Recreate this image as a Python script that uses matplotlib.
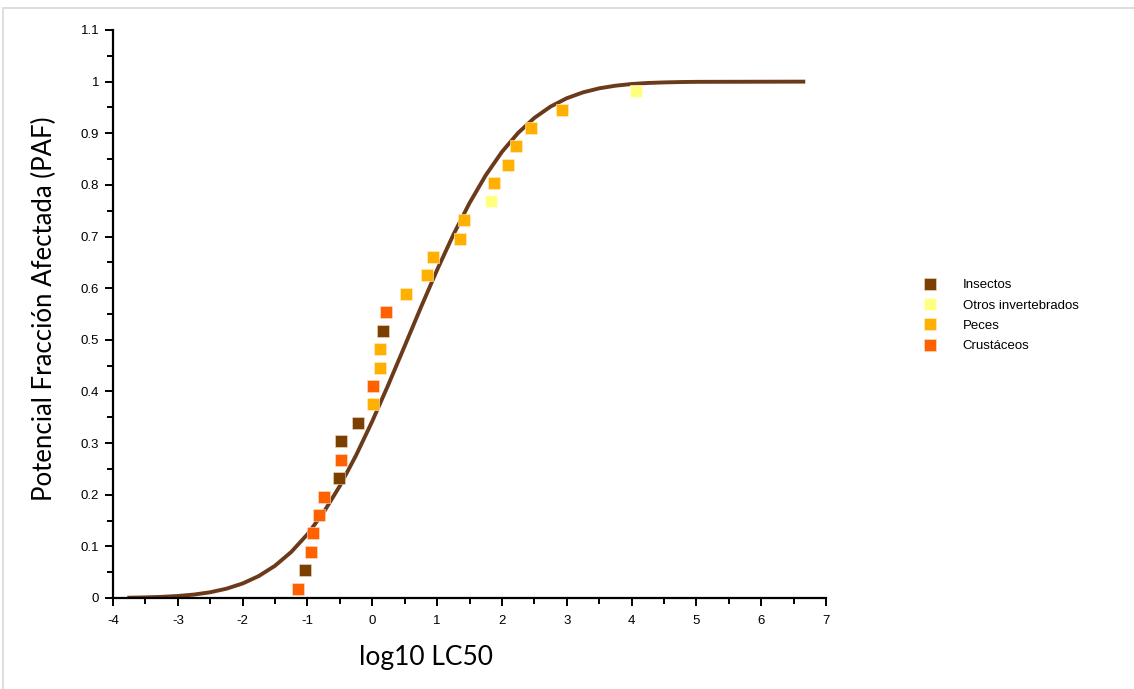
import matplotlib
matplotlib.use("Agg")
import matplotlib.pyplot as plt
from matplotlib.ticker import MultipleLocator, FormatStrFormatter
from matplotlib.patches import Rectangle

plt.rcParams['axes.unicode_minus'] = False

# species points (log10 LC50, PAF rank)
insectos_x = [-1.04, -0.52, -0.48, -0.22, 0.165]
insectos_y = [0.054, 0.232, 0.304, 0.339, 0.518]

otros_x = [1.83, 4.07]
otros_y = [0.768, 0.982]

peces_x = [0.006, 0.12, 0.12, 0.52, 0.85, 0.94, 1.36, 1.41, 1.88, 2.10, 2.21, 2.45, 2.92]
peces_y = [0.375, 0.446, 0.482, 0.589, 0.625, 0.661, 0.696, 0.732, 0.804, 0.839, 0.875, 0.911, 0.946]

crust_x = [-1.15, -0.95, -0.91, -0.82, -0.75, -0.48, 0.006, 0.21]
crust_y = [0.018, 0.089, 0.125, 0.161, 0.196, 0.268, 0.411, 0.554]

# fitted SSD curve, read at 0.25 steps
curve_x = [-3.75, -3.5, -3.25, -3.0, -2.75, -2.5, -2.25, -2.0, -1.75, -1.5,
           -1.25, -1.0, -0.75, -0.5, -0.25, 0.0, 0.25, 0.5, 0.75, 1.0,
           1.25, 1.5, 1.75, 2.0, 2.25, 2.5, 2.75, 3.0, 3.25, 3.5,
           3.75, 4.0, 4.25, 4.5, 4.75, 5.0, 6.65]
curve_y = [0.0006, 0.0012, 0.0022, 0.0039, 0.0067, 0.0111, 0.0180, 0.0281, 0.0426, 0.0625,
           0.0892, 0.1235, 0.1660, 0.2171, 0.2763, 0.3424, 0.4137, 0.4880, 0.5628, 0.6353,
           0.7033, 0.7648, 0.8186, 0.8639, 0.9007, 0.9297, 0.9517, 0.9678, 0.9792, 0.9870,
           0.9921, 0.9954, 0.9974, 0.9985, 0.9992, 0.9996, 1.0]

fig = plt.figure(figsize=(11.34, 6.89), dpi=100)
W, H = 1134, 689
ax = fig.add_axes([113 / W, 1 - 598 / H, 713 / W, 568 / H])

# light frame around the picture
fig.add_artist(Rectangle((3 / W, -0.1), 1.2, (H - 8) / H + 0.1, transform=fig.transFigure,
                         fill=False, edgecolor='#d8d8d8', linewidth=1.2))

ax.plot(curve_x, curve_y, color='#6b3a1a', linewidth=2.8, zorder=2)

msize = 8
ax.plot(insectos_x, insectos_y, 's', color='#7b3f00', markersize=msize, markeredgecolor='#f0e0d0',
        markeredgewidth=0.4, label='Insectos', zorder=3)
ax.plot(otros_x, otros_y, 's', color='#ffff80', markersize=msize, markeredgecolor='#fffff0',
        markeredgewidth=0.4, label='Otros invertebrados', zorder=3)
ax.plot(peces_x, peces_y, 's', color='#ffb000', markersize=msize, markeredgecolor='#fff0d0',
        markeredgewidth=0.4, label='Peces', zorder=3)
ax.plot(crust_x, crust_y, 's', color='#ff6000', markersize=msize, markeredgecolor='#ffe0d0',
        markeredgewidth=0.4, label='Crustáceos', zorder=3)

ax.set_xlim(-4, 7)
ax.set_ylim(0, 1.1)
ax.spines['top'].set_visible(False)
ax.spines['right'].set_visible(False)
ax.spines['left'].set_linewidth(1.6)
ax.spines['bottom'].set_linewidth(1.6)

ax.xaxis.set_major_locator(MultipleLocator(1))
ax.xaxis.set_minor_locator(MultipleLocator(0.5))
ax.yaxis.set_major_locator(MultipleLocator(0.1))
ax.yaxis.set_minor_locator(MultipleLocator(0.05))
ax.yaxis.set_major_formatter(FormatStrFormatter('%g'))
ax.tick_params(which='major', length=6, width=1.4, direction='out', labelsize=9.5, pad=6)
ax.tick_params(which='minor', length=4.5, width=1.4, direction='out')
for lab in ax.get_xticklabels() + ax.get_yticklabels():
    lab.set_fontfamily('Liberation Sans')
ax.tick_params(axis='y', pad=4)

ax.set_xlabel('log10 LC50', fontsize=19, fontfamily='Lato')
ax.xaxis.set_label_coords((426 - 113) / 713, -(645 - 598) / 568)
ax.set_ylabel('Potencial Fracción Afectada (PAF)', fontsize=18.5, fontfamily='Lato')
ax.yaxis.set_label_coords((57 - 113) / 713, 0.51)

leg = fig.legend(loc='upper left', bbox_to_anchor=(923 / W, 1 - 279 / H), frameon=False,
                 borderpad=0, borderaxespad=0, handlelength=1.0, handletextpad=2.0,
                 labelspacing=0.62, prop={'family': 'Liberation Sans', 'size': 9.5})
for h in leg.legend_handles:
    h.set_markersize(9)

fig.savefig('out.png', dpi=100)
